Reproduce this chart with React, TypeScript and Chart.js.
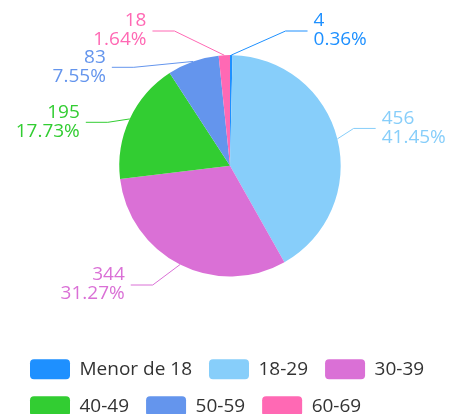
import { useEffect, useRef } from 'react';
import { Chart, registerables } from 'chart.js';

Chart.register(...registerables);

const categories = ['Menor de 18', '18-29', '30-39', '40-49', '50-59', '60-69'];
const counts = [4, 456, 344, 195, 83, 18];
const colors = ['#1E90FF', '#87CEFA', '#DA70D6', '#32CD32', '#6495ED', '#FF69B4'];

const FONT_FAMILY = '"Open Sans", "Noto Sans", sans-serif';
const LABEL_FONT_SIZE = 19;
// label layout constants
const LEN_Y = 43; // radial distance used for the natural label height
const ELLIPSE_A = 17; // extra horizontal radius of the elbow ellipse
const ELLIPSE_B = 39; // extra vertical radius of the elbow ellipse
const LEN2 = 22; // horizontal leader length
const GAP = 6; // leader end to text
const LABEL_SPACING = 55;
const LABEL_MIN_Y = 31;
const LABEL_MAX_Y = 285;

const pieLabels = {
  id: 'pieLabels',
  afterDatasetsDraw(chart: any) {
    const meta = chart.getDatasetMeta(0);
    const values = chart.data.datasets[0].data as number[];
    const total = values.reduce((a, b) => a + b, 0);
    const ctx = chart.ctx as CanvasRenderingContext2D;
    const items = meta.data.map((arc: any, i: number) => {
      const p = arc.getProps(['x', 'y', 'startAngle', 'endAngle', 'outerRadius'], true);
      const mid = (p.startAngle + p.endAngle) / 2;
      const ux = Math.cos(mid);
      const uy = Math.sin(mid);
      return {
        i,
        cx: p.x,
        cy: p.y,
        R: p.outerRadius,
        side: ux >= 0 ? 1 : -1,
        x0: p.x + p.outerRadius * ux,
        y0: p.y + p.outerRadius * uy,
        ly: p.y + (p.outerRadius + LEN_Y) * uy,
        ex: 0,
      };
    });
    [1, -1].forEach((side) => {
      const list = items.filter((it: any) => it.side === side).sort((a: any, b: any) => a.ly - b.ly);
      list.forEach((it: any, k: number) => {
        if (k > 0) it.ly = Math.max(it.ly, list[k - 1].ly + LABEL_SPACING);
      });
      list.forEach((it: any) => {
        it.ly = Math.min(Math.max(it.ly, LABEL_MIN_Y), LABEL_MAX_Y);
        const a = it.R + ELLIPSE_A;
        const b = it.R + ELLIPSE_B;
        const dy = it.ly - it.cy;
        const dx = a * Math.sqrt(Math.max(0, 1 - (dy * dy) / (b * b)));
        it.ex = it.cx + side * dx;
      });
    });
    ctx.save();
    items.forEach((it: any) => {
      const color = colors[it.i];
      const endX = it.ex + it.side * LEN2;
      ctx.strokeStyle = color;
      ctx.lineWidth = 1;
      ctx.beginPath();
      ctx.moveTo(it.x0, it.y0);
      ctx.lineTo(it.ex, it.ly);
      ctx.lineTo(endX, it.ly);
      ctx.stroke();
      ctx.fillStyle = color;
      ctx.font = `${LABEL_FONT_SIZE}px ${FONT_FAMILY}`;
      ctx.textAlign = it.side > 0 ? 'left' : 'right';
      ctx.textBaseline = 'middle';
      const tx = endX + it.side * GAP;
      const v = values[it.i];
      ctx.fillText(String(v), tx, it.ly - 10);
      ctx.fillText(((v / total) * 100).toFixed(2) + '%', tx, it.ly + 9);
    });
    ctx.restore();
  },
};

export default function App() {
  const canvasRef = useRef<HTMLCanvasElement | null>(null);

  useEffect(() => {
    if (!canvasRef.current) return;
    const chart = new Chart(canvasRef.current, {
      type: 'pie',
      data: {
        labels: categories,
        datasets: [
          {
            data: counts,
            backgroundColor: colors,
            borderWidth: 0,
            radius: 110.7,
          } as any,
        ],
      },
      options: {
        responsive: false,
        animation: false,
        layout: { padding: { top: 0, bottom: 0, left: 13, right: 9 } },
        plugins: {
          tooltip: { enabled: false },
          legend: {
            position: 'bottom',
            align: 'start',
            maxHeight: 82.4,
            title: {
              display: true,
              text: ' ',
              color: 'rgba(0,0,0,0)',
              padding: 0,
              font: { size: 10, lineHeight: 1.07 },
            },
            labels: {
              boxWidth: 40,
              boxHeight: 20,
              padding: 17,
              color: '#333',
              useBorderRadius: true,
              borderRadius: 4,
              font: { family: FONT_FAMILY, size: 19 },
              generateLabels: () =>
                categories.map((c, i) => ({
                  text: c,
                  fillStyle: colors[i],
                  strokeStyle: colors[i],
                  lineWidth: 0,
                  hidden: false,
                  index: i,
                  borderRadius: 4,
                  fontColor: '#333',
                })),
            },
          },
        },
      } as any,
      plugins: [pieLabels],
    });
    return () => chart.destroy();
  }, []);

  return (
    <div style={{ position: 'absolute', left: 0, top: 0, width: 456, height: 414, background: '#fff' }}>
      <canvas ref={canvasRef} width={456} height={414} style={{ display: 'block' }} />
    </div>
  );
}
